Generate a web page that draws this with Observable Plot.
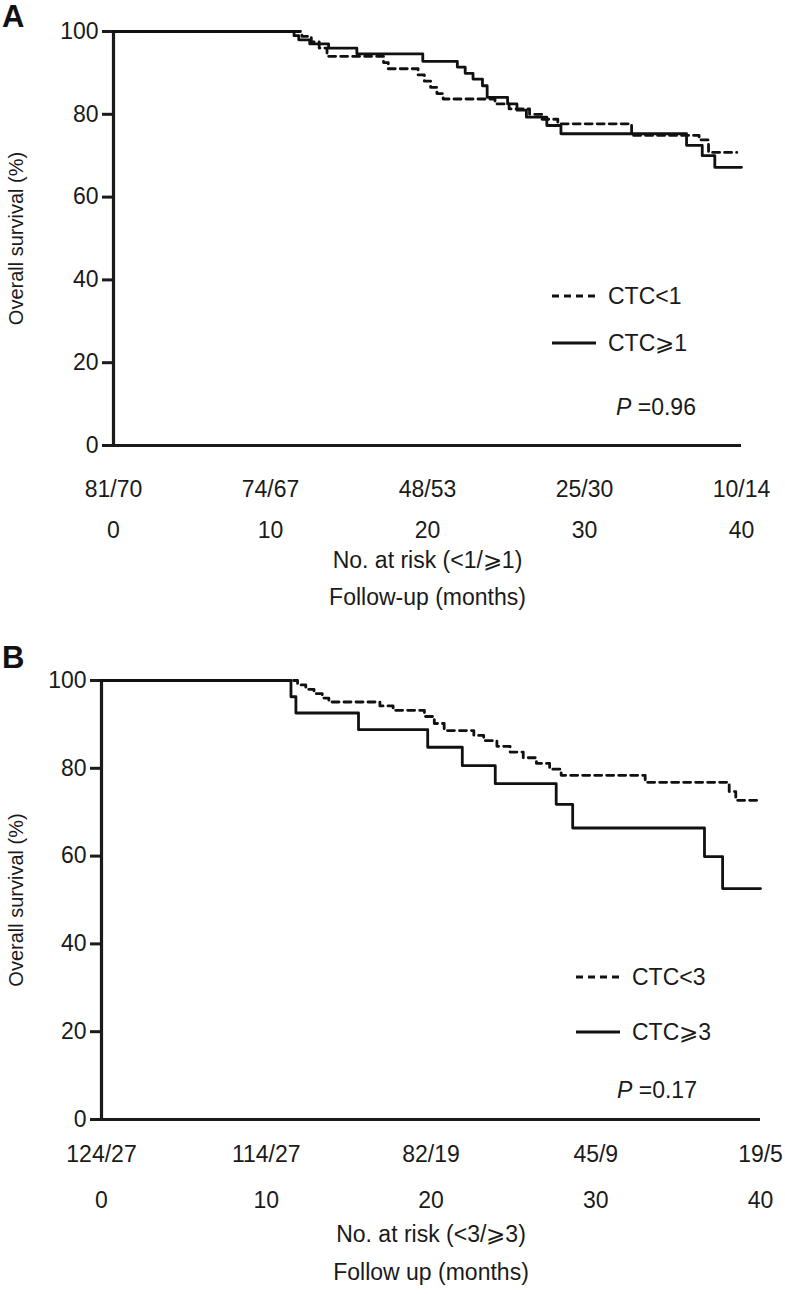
<!DOCTYPE html>
<html><head><meta charset="utf-8">
<script src="https://cdn.jsdelivr.net/npm/d3@7"></script>
<script src="https://cdn.jsdelivr.net/npm/@observablehq/plot@0.6"></script>
<style>
body{margin:0;background:#fff;font-family:"Liberation Sans",Arial,Helvetica,sans-serif;color:#1a1a1a;}
#wrap{position:relative;width:785px;height:1294px;overflow:hidden;}
.panel{position:absolute;left:0;}
.tag{position:absolute;left:2px;font-weight:bold;font-size:31px;line-height:30px;color:#111;}
.leg{position:absolute;height:30px;display:flex;align-items:center;font-size:23px;white-space:nowrap;}
.leg svg{margin-right:12px;}
.pval{position:absolute;height:30px;line-height:30px;font-size:23px;white-space:nowrap;}
</style></head><body><div id="wrap"></div>
<script>
// ---- data ----
const months = [0, 10, 20, 30, 40];
const yTicks = [0, 20, 40, 60, 80, 100];
const atRiskA = ["81/70", "74/67", "48/53", "25/30", "10/14"];
const atRiskB = ["124/27", "114/27", "82/19", "45/9", "19/5"];

// Panel A: CTC<1 (dashed)
const aLowTime = [0, 12.0, 12.6, 13.1, 13.6, 17.2, 17.5, 19.4, 19.8, 20.2, 20.6, 21.0, 24.3, 25.2, 26.5, 27.3, 28.3, 33.0, 37.3, 37.9, 39.7];
const aLowSurv = [100, 98.8, 97.5, 96.0, 94.0, 92.5, 91.0, 89.5, 88.0, 86.5, 85.0, 83.7, 82.5, 81.3, 80.0, 78.8, 77.7, 74.9, 73.8, 70.8, 70.8];
// Panel A: CTC>=1 (solid)
const aHighTime = [0, 11.5, 11.8, 12.5, 13.7, 15.5, 19.7, 21.9, 22.4, 22.9, 23.5, 23.8, 25.1, 25.7, 26.3, 27.6, 28.5, 36.5, 37.5, 38.3, 40.0];
const aHighSurv = [100, 99.0, 98.0, 97.0, 96.0, 94.6, 92.8, 91.4, 89.9, 88.5, 86.9, 84.1, 82.5, 81.0, 79.3, 77.3, 75.3, 72.5, 70.0, 67.2, 67.2];

// Panel B: CTC<3 (dashed)
const bLowTime = [0, 11.9, 12.4, 12.9, 13.4, 13.8, 16.9, 17.7, 19.6, 20.2, 20.8, 22.6, 23.2, 24.0, 24.8, 25.6, 26.4, 27.2, 27.9, 33.0, 38.1, 38.5, 40.0];
const bLowSurv = [100, 99.0, 98.0, 97.0, 96.0, 95.1, 94.2, 93.2, 91.8, 90.2, 88.6, 87.5, 86.3, 85.0, 83.7, 82.4, 81.1, 79.8, 78.4, 76.8, 74.7, 72.7, 72.7];
// Panel B: CTC>=3 (solid)
const bHighTime = [0, 11.5, 11.8, 15.6, 19.8, 21.9, 23.9, 27.6, 28.6, 36.6, 37.7, 40.0];
const bHighSurv = [100, 96.3, 92.6, 88.8, 84.8, 80.6, 76.5, 71.8, 66.4, 59.9, 52.6, 52.6];

const toRows = (t, s) => t.map((v, i) => ({t: v, s: s[i]}));

function panel(o) {
  const low = toRows(o.lowT, o.lowS), high = toRows(o.highT, o.highS);
  return Plot.plot({
    width: 785, height: o.height,
    marginLeft: o.ml, marginRight: o.mr, marginTop: o.mt,
    marginBottom: o.height - o.mt - o.fh,
    x: {domain: [0, 40]},
    y: {domain: [0, 100]},
    style: {fontFamily: '"Liberation Sans", Arial, sans-serif', fontSize: "23px", color: "#1a1a1a", background: "transparent", overflow: "visible"},
    marks: [
      Plot.axisY({ticks: yTicks, tickSize: 11, strokeWidth: 3, tickPadding: 4, label: null, fontSize: 23}),
      Plot.axisX({ticks: months, tickSize: 0, tickPadding: o.riskPad, tickFormat: d => o.atRisk[months.indexOf(d)], label: null, fontSize: 23}),
      Plot.axisX({ticks: months, tickSize: 0, tickPadding: o.monthPad, tickFormat: d => String(d), label: null, fontSize: 23}),
      Plot.ruleX([0], {strokeWidth: 3.2}),
      Plot.ruleY([0], {strokeWidth: 3.2}),
      Plot.line(high, {x: "t", y: "s", curve: "step-after", strokeWidth: 2.8, stroke: "#111"}),
      Plot.line(low, {x: "t", y: "s", curve: "step-after", strokeWidth: 2.8, stroke: "#111", strokeDasharray: "7,5"}),
      Plot.text([o.riskLabel], {text: d => d, frameAnchor: "bottom", dy: o.riskDy, fontSize: 23}),
      Plot.text([o.followLabel], {text: d => d, frameAnchor: "bottom", dy: o.followDy, fontSize: 23}),
      Plot.text(["Overall survival (%)"], {text: d => d, frameAnchor: "left", textAnchor: "middle", dx: -(o.ml - 16), rotate: -90, fontSize: 20})
    ]
  });
}

const wrap = document.getElementById("wrap");

function addPanel(top, tag, o, legend) {
  const div = document.createElement("div");
  div.className = "panel";
  div.style.top = top + "px";
  div.appendChild(panel(o));
  wrap.appendChild(div);
  const t = document.createElement("div");
  t.className = "tag"; t.textContent = tag; t.style.top = (top + legend.tagTop) + "px";
  wrap.appendChild(t);
  legend.items.forEach(it => {
    const d = document.createElement("div");
    d.className = "leg";
    d.style.left = it.x + "px";
    d.style.top = (top + it.y - 15) + "px";
    d.innerHTML = `<svg width="${it.w}" height="6"><line x1="0" x2="${it.w}" y1="3" y2="3" stroke="#111" stroke-width="3" ${it.dashed ? 'stroke-dasharray="7,5"' : ''}/></svg><span>${it.label}</span>`;
    wrap.appendChild(d);
  });
  const p = document.createElement("div");
  p.className = "pval";
  p.style.left = legend.p.x + "px";
  p.style.top = (top + legend.p.y - 15) + "px";
  p.innerHTML = `<i>P</i> =${legend.p.v}`;
  wrap.appendChild(p);
}

addPanel(0, "A", {
  height: 640, ml: 113, mr: 44, mt: 31, fh: 414,
  lowT: aLowTime, lowS: aLowSurv, highT: aHighTime, highS: aHighSurv,
  atRisk: atRiskA, riskPad: 35, monthPad: 76, riskDy: 122, followDy: 159,
  riskLabel: "No. at risk (<1/⩾1)", followLabel: "Follow-up (months)"
}, {
  tagTop: 2,
  items: [
    {x: 552, y: 296, w: 44, dashed: true, label: "CTC&lt;1"},
    {x: 552, y: 343, w: 44, dashed: false, label: "CTC⩾1"}
  ],
  p: {x: 616, y: 407, v: "0.96"}
});

addPanel(640, "B", {
  height: 654, ml: 101, mr: 25, mt: 40, fh: 439,
  lowT: bLowTime, lowS: bLowSurv, highT: bHighTime, highS: bHighSurv,
  atRisk: atRiskB, riskPad: 26, monthPad: 72, riskDy: 122, followDy: 160,
  riskLabel: "No. at risk (<3/⩾3)", followLabel: "Follow up (months)"
}, {
  tagTop: 3,
  items: [
    {x: 576, y: 337, w: 44, dashed: true, label: "CTC&lt;3"},
    {x: 576, y: 392, w: 44, dashed: false, label: "CTC⩾3"}
  ],
  p: {x: 617, y: 450, v: "0.17"}
});
</script></body></html>
